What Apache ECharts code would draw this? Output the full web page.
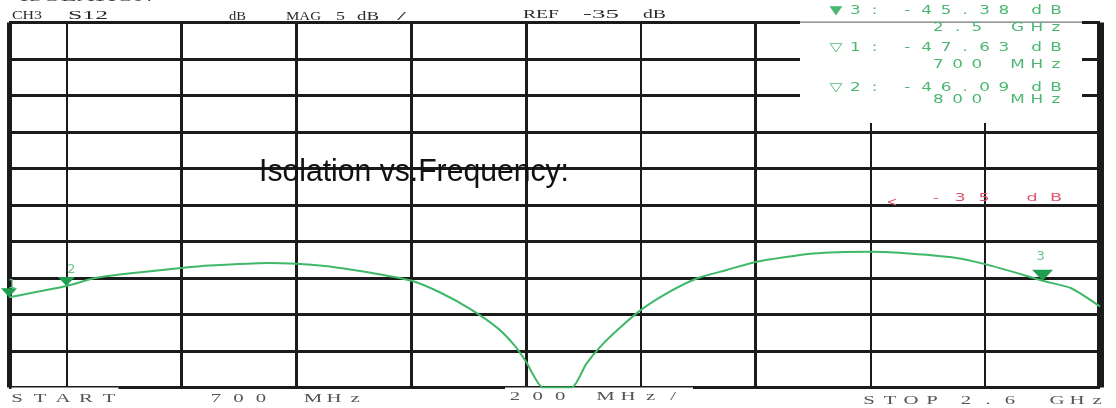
<!DOCTYPE html>
<html><head><meta charset="utf-8">
<script src="https://cdn.jsdelivr.net/npm/echarts@6/dist/echarts.min.js"></script>
<style>html,body{margin:0;padding:0;background:#fff}#c{width:1116px;height:408px}</style>
</head><body><div id="c"></div>
<script>
// ---------- data ----------
const freqMHz = [700, 800, 850, 900, 1000, 1050, 1150, 1200, 1250, 1300, 1350, 1400, 1450, 1500, 1550, 1580, 1600, 1630, 1680, 1705, 1730, 1760, 1800, 1850, 1900, 1950, 2000, 2100, 2200, 2250, 2350, 2400, 2450, 2500, 2550, 2600];
const s12dB   = [-47.63, -46.09, -45.0, -44.45, -43.63, -43.3, -42.95, -43.05, -43.35, -43.9, -44.55, -45.35, -46.95, -49.1, -51.8, -54.2, -56.4, -60, -60, -56.8, -54.4, -52.1, -49.4, -46.9, -45.0, -43.9, -42.8, -41.65, -41.4, -41.55, -42.25, -43.1, -44.2, -45.38, -46.4, -48.9];
const markerNames = ['1', '2', '3'];
const markerFreqMHz = [700, 800, 2500];
const markerDb = [-47.63, -46.09, -45.38];
const readoutOrder = [2, 0, 1];          // marker lines listed in the box
const activeMarker = 2;                   // filled triangle
const divFreqMHz = [800, 1000, 1200, 1400, 1600, 1800, 2000, 2200, 2400];
const startMHz = 700, stopMHz = 2600, stepMHz = 200;
const refDb = -35, scaleDb = 5, topDb = -10, bottomDb = -60;
const channelText = ['CH3', 'S12'];
const formatText = ['dB', 'MAG', String(scaleDb), 'dB', '/'];
const titleText = 'Isolation vs.Frequency:';
const headerText = 'ISOLATION';

// ---------- helpers (layout only) ----------
const mctx = document.createElement('canvas').getContext('2d');
function fitText(str, left, width, cy, fontSize, family, fill, z) {
  const font = fontSize + 'px ' + family;
  mctx.font = font;
  const w = mctx.measureText(str).width || 1;
  return { type: 'text', x: left, y: cy, scaleX: width / w, z: z || 12, silent: true,
    style: { text: str, font: font, fill: fill, align: 'left', textAlign: 'left', verticalAlign: 'middle', textVerticalAlign: 'middle' } };
}
// characters centred at a fixed pitch; two characters around a space are spaceAdv pitches apart
function spaced(str, cx, pitch, cy, font, fill, sx, spaceAdv) {
  const out = [];
  const sa = spaceAdv || 2;
  let pos = cx;
  str.split('').forEach((ch) => {
    if (ch === ' ') { pos += (sa - 1) * pitch; return; }
    out.push({ type: 'text', x: pos, y: cy, scaleX: sx || 1, z: 12, silent: true,
      style: { text: ch, font: font, fill: fill, align: 'center', textAlign: 'center', verticalAlign: 'middle', textVerticalAlign: 'middle' } });
    pos += pitch;
  });
  return out;
}
function spacedSpan(str, pitch, sa) {
  let n = 0;
  for (let i = 0; i < str.length - 1; i++) n += str[i] === ' ' ? sa - 1 : 1;
  return n * pitch;
}
function fmtFreq(m) { return m >= 1000 ? (m / 1000) + ' GHz' : m + ' MHz'; }

const heavy = new Set([1000, 1200, 1400, 1600, 2000]);
const gridColor = '#1b1b1b';
const lineItems = [{ xAxis: startMHz, lineStyle: { width: 5, color: gridColor, type: 'solid' } }]
  .concat(divFreqMHz.map(f => ({ xAxis: f, lineStyle: { width: heavy.has(f) ? 3 : 2, color: gridColor, type: 'solid' } })))
  .concat([{ xAxis: stopMHz, lineStyle: { width: 7, color: gridColor, type: 'solid' } }]);

const labelOffsets = [[3, -8], [5, -12], [-2, -19]];
const markerSizes = [[16, 9], [17, 9], [21, 11]];
const markerItems = markerFreqMHz.map((f, i) => ({
  coord: [f, markerDb[i]], name: markerNames[i],
  symbolSize: markerSizes[i], symbolOffset: [0, -markerSizes[i][1] / 2],
  label: { offset: labelOffsets[i] }
}));

// ---------- text decorations ----------
const serif = '"Liberation Serif", "DejaVu Serif", serif';
const sans = '"Liberation Sans", Arial, sans-serif';
const readFont = '12px "DejaVu Sans", sans-serif';
const green = '#4bb872';
const gfx = [];
// white boxes behind readouts
gfx.push({ type: 'rect', z: 10, silent: true, shape: { x: 800, y: 19, width: 282, height: 104 }, style: { fill: '#fff' } });
gfx.push({ type: 'rect', z: 11, silent: true, shape: { x: 800, y: 21.6, width: 282, height: 1.2 }, style: { fill: '#777' } });
gfx.push({ type: 'rect', z: 10, silent: true, shape: { x: 505, y: 387.6, width: 188, height: 21 }, style: { fill: '#fff' } });
gfx.push({ type: 'rect', z: 10, silent: true, shape: { x: 11.5, y: 387.6, width: 107, height: 21 }, style: { fill: '#fff' } });
// header
gfx.push(fitText(headerText, 20, 133, -2.5, 14, serif, '#333'));
gfx.push(fitText(channelText[0], 12, 30, 15.5, 12, serif, '#2a2a2a'));
gfx.push(fitText(channelText[1], 68, 40, 15.5, 12, serif, '#2a2a2a'));
gfx.push(fitText(formatText[0], 229, 17, 16.5, 12, serif, '#2a2a2a'));
gfx.push(fitText(formatText[1], 286, 35, 16.5, 12, serif, '#2a2a2a'));
gfx.push(fitText(formatText[2], 336, 9, 16.5, 12, serif, '#2a2a2a'));
gfx.push(fitText(formatText[3], 357, 22, 16.5, 12, serif, '#2a2a2a'));
gfx.push(fitText(formatText[4], 397, 9, 16.5, 12, serif, '#2a2a2a'));
gfx.push(fitText('REF', 523, 36, 14.5, 12, serif, '#2a2a2a'));
gfx.push(fitText(String(refDb), 583, 36, 14.5, 12, serif, '#2a2a2a'));
gfx.push(fitText('dB', 643, 23, 14.5, 12, serif, '#2a2a2a'));
// marker readout
const readY = [[10.5, 27.5], [47.5, 65], [87.5, 99.5]];
const rp = 19.3, rsa = 1.7, rsa2 = 2.1;
readoutOrder.forEach((m, k) => {
  const tri = m === activeMarker ? '\u25BC' : '\u25BD';
  const l1 = tri + markerNames[m] + ': ' + markerDb[m].toFixed(2) + ' dB';
  const l2 = fmtFreq(markerFreqMHz[m]);
  gfx.push(...spaced(l1, 1056 - spacedSpan(l1, rp, rsa), rp, readY[k][0], readFont, green, 1.4, rsa));
  gfx.push(...spaced(l2, 1056 - spacedSpan(l2, rp, rsa2), rp, readY[k][1], readFont, green, 1.4, rsa2));
});
// reference marker
gfx.push(...spaced('<', 892, 24, 203, '13px "DejaVu Sans", sans-serif', '#e0566c', 1));
gfx.push(...spaced(refDb + ' dB', 936, 24, 198.5, '11px "DejaVu Sans", sans-serif', '#e0566c', 1.6, 2));
// bottom annotations
const botFont = '13px ' + serif, botFill = '#555';
gfx.push(...spaced('START', 17, 23, 398.5, botFont, botFill, 1.6));
gfx.push(...spaced(String(startMHz), 216, 22.5, 398.5, botFont, botFill, 1.6));
gfx.push(...spaced('MHz', 313, 21, 398.5, botFont, botFill, 1.6));
gfx.push(...spaced(stepMHz + ' MHz/', 515, 22.6, 396.5, botFont, botFill, 1.6, 2));
gfx.push(...spaced('STOP', 869, 21, 401, botFont, botFill, 1.6));
gfx.push(...spaced(String(stopMHz / 1000), 966, 22, 401, botFont, botFill, 1.6));
gfx.push(...spaced('GHz', 1057, 20, 401, botFont, botFill, 1.6));
// title overlay
gfx.push(fitText(titleText, 259, 310, 172, 32, sans, '#111', 30));

const chart = echarts.init(document.getElementById('c'), null, { renderer: 'canvas' });
chart.setOption({
  animation: false,
  backgroundColor: '#fff',
  grid: { left: 9, right: 16, top: 22.5, bottom: 20.5, containLabel: false },
  xAxis: { type: 'value', min: startMHz, max: stopMHz,
    axisLine: { show: false }, axisTick: { show: false }, axisLabel: { show: false }, splitLine: { show: false } },
  yAxis: { type: 'value', min: bottomDb, max: topDb, interval: scaleDb,
    axisLine: { show: false }, axisTick: { show: false }, axisLabel: { show: false },
    splitLine: { show: true, lineStyle: { color: gridColor, width: 3 } } },
  series: [
    { type: 'line', name: 'grid', data: [], z: 1, silent: true,
      markLine: { silent: true, z: 1, symbol: 'none', animation: false, label: { show: false },
        lineStyle: { type: 'solid', color: gridColor }, data: lineItems } },
    { type: 'line', name: 'S12', z: 20, silent: true,
      data: freqMHz.map((f, i) => [f, s12dB[i]]),
      showSymbol: false, symbol: 'none', smooth: 0.2, clip: true,
      lineStyle: { color: '#3fb868', width: 2 },
      markPoint: { z: 25, silent: true, animation: false,
        symbol: 'triangle', symbolRotate: 180,
        itemStyle: { color: '#1f9e4f' },
        label: { show: true, position: 'inside', formatter: '{b}', color: '#6cc48a', fontSize: 13, fontFamily: 'DejaVu Sans' },
        data: markerItems } }
  ],
  graphic: { elements: gfx }
});
</script></body></html>
